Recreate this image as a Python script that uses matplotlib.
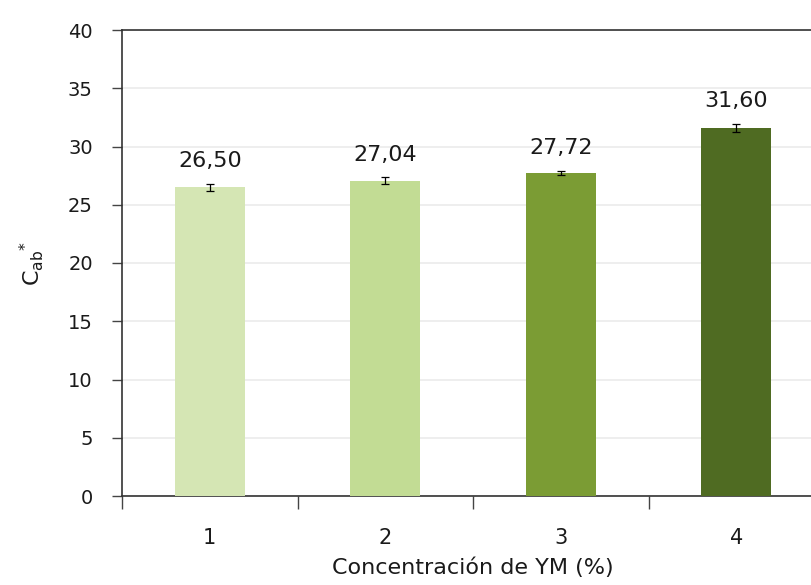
import matplotlib
matplotlib.use("Agg")
import matplotlib.pyplot as plt

categories = ["1", "2", "3", "4"]
values = [26.50, 27.04, 27.72, 31.60]
errors = [0.30, 0.30, 0.20, 0.35]
labels = ["26,50", "27,04", "27,72", "31,60"]
colors = ["#d5e6b4", "#c2dc94", "#7b9c34", "#4f6b22"]

plt.rcParams['font.family'] = ['DejaVu Sans']

fig = plt.figure(figsize=(8.12, 5.85), dpi=100)
ax = fig.add_axes([122/812, 1-496/585, (824-122)/812, (496-30)/585])

x = list(range(1, len(categories)+1))
ax.bar(x, values, width=0.4, color=colors, zorder=3,
       yerr=errors, error_kw=dict(ecolor='black', elinewidth=0.9, capsize=3, capthick=0.9))
for xi, v, e, lab in zip(x, values, errors, labels):
    ax.annotate(lab, (xi, v + e), xytext=(0, 12), textcoords='offset points',
                ha='center', va='baseline', fontsize=16, color='#1a1a1a')

ax.set_xlim(0.5, 4.5)
ax.set_ylim(0, 40)
ax.set_yticks(range(0, 41, 5))
ax.set_xticks(x)
ax.set_xticklabels(categories)
ax.set_xticks([0.5, 1.5, 2.5, 3.5, 4.5], minor=True)
ax.tick_params(axis='x', which='major', length=0, pad=23, labelsize=15, labelcolor='#1a1a1a')
ax.tick_params(axis='x', which='minor', length=9, width=1, direction='out', color='#444444')
ax.tick_params(axis='y', length=7, width=1, direction='out', pad=14, labelsize=14,
               color='#444444', labelcolor='#1a1a1a')
ax.yaxis.grid(True, color='#ebebeb', linewidth=1.2, zorder=0)
for s in ['left', 'top', 'bottom', 'right']:
    ax.spines[s].set_color('#333333')
    ax.spines[s].set_linewidth(1.2)

ax.set_xlabel("Concentración de YM (%)", fontsize=16, labelpad=7, color='#1a1a1a')
ax.set_ylabel(r"C$_{\mathregular{ab}}$$^{\mathregular{*}}$", fontsize=16, labelpad=16, color='#1a1a1a')

fig.savefig("out.png", dpi=100)
